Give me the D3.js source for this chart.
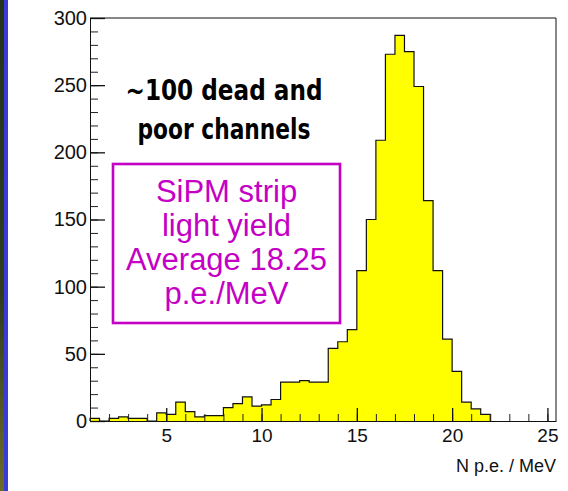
<!DOCTYPE html>
<html>
<head>
<meta charset="utf-8">
<script src="https://cdn.jsdelivr.net/npm/d3@7"></script>
<style>
  body { margin: 0; background: #fff; }
  svg { display: block; }
</style>
</head>
<body>
<div id="chart"></div>
<script>
// histogram bins (lower edge, width 0.5) and counts
const binLow = [1, 1.5, 2, 2.5, 3, 3.5, 4, 4.5, 5, 5.5, 6, 6.5, 7, 7.5, 8, 8.5, 9, 9.5, 10, 10.5,
  11, 11.5, 12, 12.5, 13, 13.5, 14, 14.5, 15, 15.5, 16, 16.5, 17, 17.5, 18, 18.5, 19, 19.5,
  20, 20.5, 21, 21.5];
const counts = [2, 0, 2, 3, 2, 2, 0, 6, 5, 14, 7, 3, 4, 4, 10, 13, 18, 11, 12, 16,
  29, 29, 30, 29, 29, 54, 59, 68, 112, 150, 209, 273, 287, 275, 249, 164, 112, 61,
  37, 14, 9, 5];
const binWidth = 0.5;

const xTicks = [5, 10, 15, 20, 25];
const yTicks = [0, 50, 100, 150, 200, 250, 300];
const xLabel = "N p.e. / MeV";
const noteLines = ["~100 dead and", "poor channels"];
const boxLines = ["SiPM strip", "light yield", "Average 18.25", "p.e./MeV"];

const width = 568, height = 491;
const plotLeft = 90, plotRight = 556, plotTop = 18, plotBottom = 421;

const svg = d3.select("#chart").append("svg")
  .attr("width", width)
  .attr("height", height);

// slide edge on the left
const grad = svg.append("defs").append("linearGradient")
  .attr("id", "edge").attr("x1", 0).attr("y1", 0).attr("x2", 0).attr("y2", 1);
grad.append("stop").attr("offset", "0%").attr("stop-color", "#24331c");
grad.append("stop").attr("offset", "60%").attr("stop-color", "#2f3d1e");
grad.append("stop").attr("offset", "100%").attr("stop-color", "#6b6a2a");
svg.append("rect").attr("x", 0).attr("y", 0).attr("width", 4).attr("height", height)
  .attr("fill", "url(#edge)");
svg.append("rect").attr("x", 4).attr("y", 0).attr("width", 4).attr("height", height)
  .attr("fill", "#3a3ad6");

const x = d3.scaleLinear().domain([1, 25.45]).range([plotLeft, plotRight]);
const y = d3.scaleLinear().domain([0, 300]).range([plotBottom, plotTop]);

// step outline of the histogram, filled then stroked
let p = d3.path();
p.moveTo(x(binLow[0]), y(0));
binLow.forEach(function(d, i) {
  p.lineTo(x(d), y(counts[i]));
  p.lineTo(x(d + binWidth), y(counts[i]));
});
p.lineTo(x(binLow[binLow.length - 1] + binWidth), y(0));

svg.append("path")
  .attr("d", p.toString() + "Z")
  .attr("fill", "#ffff00");
svg.append("path")
  .attr("d", p.toString())
  .attr("fill", "none")
  .attr("stroke", "#111")
  .attr("stroke-width", 1.2);

const tickFont = "'Liberation Sans', Arial, sans-serif";

// y axis (ticks inside)
svg.append("g")
  .attr("transform", "translate(" + plotLeft + ",0)")
  .call(d3.axisLeft(y).tickValues(d3.range(0, 301, 10)).tickSize(-8).tickFormat(""))
  .call(g => g.select(".domain").remove())
  .selectAll("line").attr("stroke", "#222");
const yAxis = svg.append("g")
  .attr("transform", "translate(" + plotLeft + ",0)")
  .call(d3.axisLeft(y).tickValues(yTicks).tickSize(-15).tickPadding(3).tickSizeOuter(0));
yAxis.selectAll("text")
  .style("font-family", tickFont)
  .style("font-size", "20px")
  .style("fill", "#111");
yAxis.selectAll("line").attr("stroke", "#111").attr("stroke-width", 1.3);
yAxis.select(".domain").attr("stroke", "#111");

// x axis (ticks inside)
svg.append("g")
  .attr("transform", "translate(0," + plotBottom + ")")
  .call(d3.axisBottom(x).tickValues(d3.range(1, 26, 1)).tickSize(-7).tickFormat(""))
  .call(g => g.select(".domain").remove())
  .selectAll("line").attr("stroke", "#222");
const xAxis = svg.append("g")
  .attr("transform", "translate(0," + plotBottom + ")")
  .call(d3.axisBottom(x).tickValues(xTicks).tickSize(-13).tickPadding(8).tickSizeOuter(0));
xAxis.selectAll("text")
  .style("font-family", tickFont)
  .style("font-size", "19px")
  .style("fill", "#111");
xAxis.selectAll("line").attr("stroke", "#111").attr("stroke-width", 1.3);
xAxis.select(".domain").attr("stroke", "#111");

// frame top and right
svg.append("line").attr("x1", plotLeft).attr("x2", plotRight).attr("y1", plotTop).attr("y2", plotTop)
  .attr("stroke", "#111");
svg.append("line").attr("x1", plotRight).attr("x2", plotRight).attr("y1", plotTop).attr("y2", plotBottom)
  .attr("stroke", "#111");

// axis title
svg.append("text")
  .attr("x", plotRight)
  .attr("y", 472)
  .attr("text-anchor", "end")
  .style("font-family", tickFont)
  .style("font-size", "18px")
  .style("fill", "#111")
  .text(xLabel);

// black note
const noteLens = [197, 173];
svg.selectAll(".note")
  .data(noteLines)
  .enter()
  .append("text")
    .attr("class", "note")
    .attr("x", 224)
    .attr("y", (d, i) => 100 + i * 39)
    .attr("text-anchor", "middle")
    .attr("textLength", (d, i) => noteLens[i])
    .attr("lengthAdjust", "spacingAndGlyphs")
    .style("font-family", "'Comic Sans MS', 'DejaVu Sans', sans-serif")
    .style("font-weight", "bold")
    .style("font-size", "29px")
    .style("fill", "#000")
    .text(d => d);

// magenta box
const magenta = "#c400c4";
svg.append("rect")
  .attr("x", 113).attr("y", 164)
  .attr("width", 227).attr("height", 159)
  .attr("fill", "none")
  .attr("stroke", magenta)
  .attr("stroke-width", 2.6);
svg.selectAll(".box")
  .data(boxLines)
  .enter()
  .append("text")
    .attr("class", "box")
    .attr("x", 226.5)
    .attr("y", (d, i) => 202 + i * 34)
    .attr("text-anchor", "middle")
    .style("font-family", tickFont)
    .style("font-size", "31px")
    .style("fill", magenta)
    .text(d => d);
</script>
</body>
</html>
